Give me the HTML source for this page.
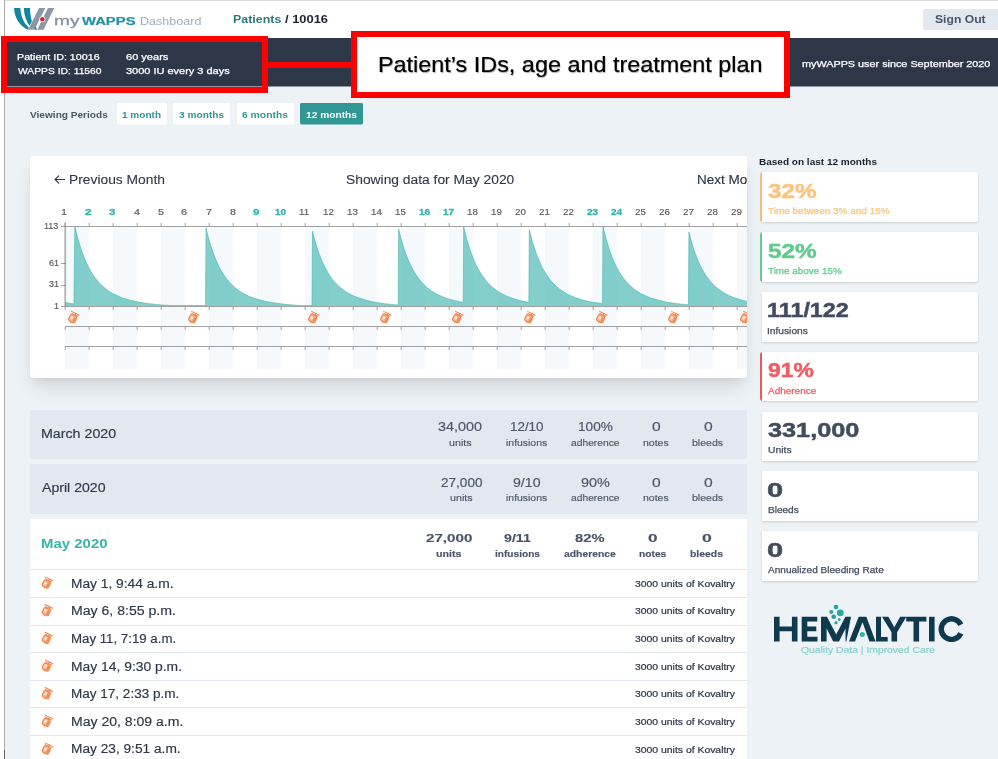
<!DOCTYPE html>
<html lang="en">
<head>
<meta charset="utf-8">
<title>myWAPPS Dashboard - Patient 10016</title>
<style>
html,body{margin:0;padding:0}
body{width:998px;height:759px;overflow:hidden;background:#edf2f7;font-family:"Liberation Sans",sans-serif;position:relative}
#page{position:absolute;left:0;top:0;width:998px;height:759px;overflow:hidden;background:#edf2f7;will-change:transform}
.b{position:absolute;display:block}
.t{position:absolute;display:block;white-space:nowrap;line-height:1;font-family:"Liberation Sans",sans-serif}
.t{line-height:1em;transform-origin:0 50%}
</style>
</head>
<body>
<div id="page">
<div class="b" style="left:0;top:0;width:4px;height:759px;background:#fff"></div>
<div class="b" style="left:4px;top:0;width:1px;height:759px;background:#aaa"></div>
<div class="b" style="left:4px;top:750px;width:1px;height:9px;background:#666"></div>
<div class="b hdr" style="left:5px;top:0;width:993px;height:38px;background:#fff;border-top:1px solid #dcdcdc;box-sizing:border-box"></div>
<svg class="b" style="left:12px;top:5px" width="46" height="28" viewBox="12 5 46 28">
<path d="M14 8 L20.3 8 C20.9 16 23.6 23.2 28.7 27.3 L27.9 29.7 C20 26.5 14.6 18 14 8 Z" fill="#12869f"/>
<path d="M23.8 8 L30 8 C30.1 13 30.8 17.4 31.9 21.2 L29.6 25.8 C26.2 21.2 24 15 23.8 8 Z" fill="#12869f"/>
<path d="M39 8 L45.3 8 L34.5 29.7 L28.1 29.7 Z" fill="#8c98a4"/>
<path d="M48 8 L54.3 8 L43.5 29.7 L37.2 29.7 Z" fill="#8c98a4"/>
<path d="M34.3 26.9 L35.7 26.2 C36 27.6 36.7 28.8 37.5 29.7 L35.3 29.7 C34.8 28.9 34.5 27.9 34.3 26.9 Z" fill="#1a8ca4"/>
<circle cx="42.3" cy="19.2" r="3" fill="#fff"/>
<circle cx="42.3" cy="19.2" r="2.2" fill="#e3172b"/>
</svg>
<span class="t" style="left:54.46px;top:14.67px;font-size:12.2px;color:#8792a0;transform:scaleX(1.5683);-webkit-text-stroke-width:0.3px;">my</span>
<span class="t" style="left:82.00px;top:15.86px;font-size:10.8px;color:#2590a8;font-weight:700;transform:scaleX(1.3727);-webkit-text-stroke-width:0.2px;">WAPPS</span>
<span class="t" style="left:139.50px;top:15.76px;font-size:10.8px;color:#a0aec0;transform:scaleX(1.1618);">Dashboard</span>
<span class="t" style="left:232.89px;top:14.78px;font-size:10.3px;color:#2c7a7b;font-weight:700;transform:scaleX(1.2091);">Patients</span>
<span class="t" style="left:284.64px;top:14.78px;font-size:10.3px;color:#1a202c;font-weight:700;transform:scaleX(1.2523);">/ 10016</span>
<div class="b" style="left:923px;top:9px;width:75.00px;height:21.00px;background:#e2e8f0;border-radius:2px 0 0 2px;"></div>
<span class="t" style="left:934.70px;top:13.76px;font-size:10.8px;color:#4a5568;font-weight:700;transform:scaleX(1.1263);">Sign Out</span>
<div class="b" style="left:5px;top:38px;width:993.00px;height:48.00px;background:#2d3748;"></div>
<div class="b" style="left:5px;top:86px;width:993.00px;height:1.00px;background:#8a93a0;"></div>
<span class="t" style="left:16.54px;top:52.67px;font-size:8.9px;color:#fff;transform:scaleX(1.2041);-webkit-text-stroke-width:0.25px;">Patient ID: 10016</span>
<span class="t" style="left:17.60px;top:66.67px;font-size:8.9px;color:#fff;transform:scaleX(1.1598);-webkit-text-stroke-width:0.25px;">WAPPS ID: 11560</span>
<span class="t" style="left:125.65px;top:52.67px;font-size:8.9px;color:#fff;transform:scaleX(1.2434);-webkit-text-stroke-width:0.25px;">60 years</span>
<span class="t" style="left:125.81px;top:66.67px;font-size:8.9px;color:#fff;transform:scaleX(1.2362);-webkit-text-stroke-width:0.25px;">3000 IU every 3 days</span>
<span class="t" style="left:802.30px;top:59.57px;font-size:8.9px;color:#fff;transform:scaleX(1.2187);-webkit-text-stroke-width:0.25px;">myWAPPS user since September 2020</span>
<span class="t" style="left:29.95px;top:110.64px;font-size:8.7px;color:#4a5568;font-weight:700;transform:scaleX(1.1622);">Viewing Periods</span>
<div class="b" style="left:116.8px;top:103px;width:50.30px;height:22.00px;background:#f6f9fb;border-radius:2px;"></div>
<div class="b" style="left:116.8px;top:103px;width:50.30px;height:21.00px;background:#fff;border-radius:1.5px;"></div>
<span class="t" style="left:122.40px;top:110.64px;font-size:8.7px;color:#319795;font-weight:700;transform:scaleX(1.1555);">1 month</span>
<div class="b" style="left:173.3px;top:103px;width:57.00px;height:22.00px;background:#f6f9fb;border-radius:2px;"></div>
<div class="b" style="left:173.3px;top:103px;width:57.00px;height:21.00px;background:#fff;border-radius:1.5px;"></div>
<span class="t" style="left:179.30px;top:110.64px;font-size:8.7px;color:#319795;font-weight:700;transform:scaleX(1.1678);">3 months</span>
<div class="b" style="left:236.5px;top:103px;width:57.70px;height:22.00px;background:#f6f9fb;border-radius:2px;"></div>
<div class="b" style="left:236.5px;top:103px;width:57.70px;height:21.00px;background:#fff;border-radius:1.5px;"></div>
<span class="t" style="left:242.34px;top:110.64px;font-size:8.7px;color:#319795;font-weight:700;transform:scaleX(1.1901);">6 months</span>
<div class="b" style="left:300.3px;top:103px;width:62.40px;height:22.00px;background:#8fc5c6;border-radius:2px;"></div>
<div class="b" style="left:300.3px;top:103px;width:62.40px;height:21.00px;background:#319795;border-radius:1.5px;"></div>
<span class="t" style="left:305.89px;top:110.64px;font-size:8.7px;color:#fff;font-weight:700;transform:scaleX(1.1717);">12 months</span>
<div class="b card" style="left:30px;top:156px;width:717px;height:222px;background:#fff;border-radius:3px;box-shadow:0 12px 18px -3px rgba(0,0,0,.11),0 4px 6px -2px rgba(0,0,0,.06);overflow:hidden">
<svg class="b" style="left:20px;top:14px" width="20" height="20" viewBox="50 170 20 20"><path d="M64.6 179.5H55.2M58.8 175.8L55.1 179.5L58.8 183.2" fill="none" stroke="#2d3748" stroke-width="1.15" stroke-linecap="round" stroke-linejoin="round"/></svg>
<span class="t" style="left:39.09px;top:17.79px;font-size:12.3px;color:#2d3748;transform:scaleX(1.1230);-webkit-text-stroke-width:0.1px;">Previous Month</span>
<span class="t" style="left:316.38px;top:17.79px;font-size:12.3px;color:#2d3748;transform:scaleX(1.1239);-webkit-text-stroke-width:0.1px;">Showing data for May 2020</span>
<span class="t" style="left:666.62px;top:17.79px;font-size:12.3px;color:#2d3748;transform:scaleX(1.1000);-webkit-text-stroke-width:0.15px;">Next Month →</span>
<svg class="b" style="left:0;top:0" width="717" height="222" viewBox="30 156 717 222">
<rect x="65.2" y="226.5" width="24.0" height="143.0" fill="#f5f9fc"/>
<rect x="113.2" y="226.5" width="24.0" height="143.0" fill="#f5f9fc"/>
<rect x="161.2" y="226.5" width="24.0" height="143.0" fill="#f5f9fc"/>
<rect x="209.2" y="226.5" width="24.0" height="143.0" fill="#f5f9fc"/>
<rect x="257.1" y="226.5" width="24.0" height="143.0" fill="#f5f9fc"/>
<rect x="305.1" y="226.5" width="24.0" height="143.0" fill="#f5f9fc"/>
<rect x="353.1" y="226.5" width="24.0" height="143.0" fill="#f5f9fc"/>
<rect x="401.1" y="226.5" width="24.0" height="143.0" fill="#f5f9fc"/>
<rect x="449.1" y="226.5" width="24.0" height="143.0" fill="#f5f9fc"/>
<rect x="497.1" y="226.5" width="24.0" height="143.0" fill="#f5f9fc"/>
<rect x="545.1" y="226.5" width="24.0" height="143.0" fill="#f5f9fc"/>
<rect x="593.1" y="226.5" width="24.0" height="143.0" fill="#f5f9fc"/>
<rect x="641.1" y="226.5" width="24.0" height="143.0" fill="#f5f9fc"/>
<rect x="689.1" y="226.5" width="24.0" height="143.0" fill="#f5f9fc"/>
<rect x="737.1" y="226.5" width="24.0" height="143.0" fill="#f5f9fc"/>
<polygon points="65.15,306.5 65.15,302.50 73.91,304.07 74.87,226.50 76.32,232.57 77.77,238.12 79.23,243.20 80.68,247.85 82.13,252.12 83.58,256.03 85.03,259.62 86.49,262.93 87.94,265.96 89.39,268.76 90.84,271.34 92.29,273.71 93.75,275.91 95.20,277.93 96.65,279.81 98.10,281.54 99.55,283.15 101.01,284.64 102.46,286.03 103.91,287.31 105.36,288.51 106.81,289.62 108.27,290.66 109.72,291.63 111.17,292.53 112.62,293.37 114.07,294.16 115.53,294.89 116.98,295.58 118.43,296.23 119.88,296.83 121.33,297.40 122.79,297.93 124.24,298.43 125.69,298.90 127.14,299.35 128.59,299.76 130.05,300.16 131.50,300.53 132.95,300.87 134.40,301.20 135.85,301.51 137.31,301.81 138.76,302.08 140.21,302.34 141.66,302.59 143.11,302.82 144.57,303.04 146.02,303.25 147.47,303.45 148.92,303.64 150.37,303.82 151.83,303.98 153.28,304.14 154.73,304.30 156.18,304.44 157.63,304.58 159.09,304.70 160.54,304.83 161.99,304.94 163.44,305.05 164.89,305.16 166.35,305.26 167.80,305.35 169.25,305.44 170.70,305.53 172.15,305.57 173.61,305.57 175.06,305.57 176.51,305.57 177.96,305.57 179.41,305.57 180.87,305.57 182.32,305.57 183.77,305.57 185.22,305.57 186.67,305.57 188.13,305.57 189.58,305.57 191.03,305.57 192.48,305.57 193.93,305.57 195.39,305.57 196.84,305.57 198.29,305.57 199.74,305.57 201.19,305.57 202.65,305.57 204.10,305.57 205.55,305.57 206.03,227.93 207.21,232.80 208.38,237.34 209.56,241.56 210.74,245.48 211.92,249.14 213.09,252.55 214.27,255.73 215.45,258.69 216.63,261.46 217.80,264.05 218.98,266.46 220.16,268.72 221.34,270.83 222.51,272.81 223.69,274.67 224.87,276.41 226.04,278.04 227.22,279.56 228.40,281.00 229.58,282.35 230.75,283.62 231.93,284.81 233.11,285.94 234.29,287.00 235.46,287.99 236.64,288.93 237.82,289.82 239.00,290.66 240.17,291.45 241.35,292.20 242.53,292.90 243.70,293.57 244.88,294.21 246.06,294.81 247.24,295.37 248.41,295.91 249.59,296.42 250.77,296.91 251.95,297.37 253.12,297.81 254.30,298.22 255.48,298.62 256.66,298.99 257.83,299.35 259.01,299.69 260.19,300.01 261.36,300.32 262.54,300.62 263.72,300.90 264.90,301.16 266.07,301.42 267.25,301.66 268.43,301.89 269.61,302.12 270.78,302.33 271.96,302.53 273.14,302.72 274.32,302.91 275.49,303.08 276.67,303.25 277.85,303.41 279.02,303.57 280.20,303.72 281.38,303.86 282.56,303.99 283.73,304.12 284.91,304.25 286.09,304.37 287.27,304.48 288.44,304.59 289.62,304.70 290.80,304.80 291.98,304.89 293.15,304.98 294.33,305.07 295.51,305.16 296.68,305.24 297.86,305.32 299.04,305.39 300.22,305.46 301.39,305.53 302.57,305.57 303.75,305.57 304.93,305.57 306.10,305.57 307.28,305.57 308.46,305.57 309.64,305.57 310.81,305.57 311.99,305.57 312.47,231.21 313.42,235.02 314.37,238.61 315.33,241.99 316.28,245.19 317.23,248.20 318.18,251.05 319.14,253.74 320.09,256.28 321.04,258.68 321.99,260.95 322.94,263.09 323.90,265.12 324.85,267.05 325.80,268.87 326.75,270.59 327.71,272.23 328.66,273.78 329.61,275.25 330.56,276.64 331.52,277.97 332.47,279.22 333.42,280.42 334.37,281.55 335.32,282.63 336.28,283.66 337.23,284.63 338.18,285.56 339.13,286.45 340.09,287.29 341.04,288.09 341.99,288.86 342.94,289.59 343.89,290.28 344.85,290.95 345.80,291.58 346.75,292.19 347.70,292.77 348.66,293.32 349.61,293.85 350.56,294.36 351.51,294.84 352.47,295.30 353.42,295.75 354.37,296.17 355.32,296.58 356.27,296.97 357.23,297.34 358.18,297.70 359.13,298.04 360.08,298.37 361.04,298.69 361.99,298.99 362.94,299.29 363.89,299.57 364.84,299.84 365.80,300.09 366.75,300.34 367.70,300.58 368.65,300.81 369.61,301.03 370.56,301.25 371.51,301.45 372.46,301.65 373.42,301.84 374.37,302.02 375.32,302.20 376.27,302.37 377.22,302.53 378.18,302.69 379.13,302.84 380.08,302.99 381.03,303.13 381.99,303.26 382.94,303.39 383.89,303.52 384.84,303.64 385.79,303.76 386.75,303.87 387.70,303.98 388.65,304.09 389.60,304.19 390.56,304.29 391.51,304.39 392.46,304.48 393.41,304.57 394.36,304.65 395.32,304.74 396.27,304.82 397.22,304.89 398.17,304.97 398.65,229.00 399.37,231.97 400.09,234.82 400.81,237.54 401.52,240.14 402.24,242.63 402.96,245.02 403.68,247.30 404.39,249.49 405.11,251.58 405.83,253.59 406.54,255.51 407.26,257.36 407.98,259.12 408.70,260.82 409.41,262.44 410.13,264.00 410.85,265.50 411.57,266.94 412.28,268.31 413.00,269.64 413.72,270.91 414.44,272.13 415.15,273.30 415.87,274.43 416.59,275.52 417.30,276.56 418.02,277.56 418.74,278.52 419.46,279.45 420.17,280.34 420.89,281.20 421.61,282.03 422.33,282.82 423.04,283.59 423.76,284.33 424.48,285.04 425.20,285.73 425.91,286.39 426.63,287.03 427.35,287.64 428.06,288.23 428.78,288.81 429.50,289.36 430.22,289.89 430.93,290.41 431.65,290.90 432.37,291.38 433.09,291.85 433.80,292.30 434.52,292.73 435.24,293.15 435.96,293.55 436.67,293.94 437.39,294.32 438.11,294.69 438.82,295.04 439.54,295.38 440.26,295.72 440.98,296.04 441.69,296.35 442.41,296.65 443.13,296.94 443.85,297.22 444.56,297.50 445.28,297.76 446.00,298.02 446.72,298.27 447.43,298.51 448.15,298.75 448.87,298.98 449.58,299.20 450.30,299.41 451.02,299.62 451.74,299.82 452.45,300.02 453.17,300.21 453.89,300.39 454.61,300.57 455.32,300.74 456.04,300.91 456.76,301.08 457.48,301.24 458.19,301.39 458.91,301.54 459.63,301.69 460.34,301.83 461.06,301.97 461.78,302.10 462.50,302.23 463.21,302.36 463.69,226.79 464.42,229.87 465.14,232.82 465.87,235.64 466.59,238.33 467.31,240.91 468.04,243.38 468.76,245.75 469.48,248.01 470.21,250.18 470.93,252.25 471.66,254.24 472.38,256.14 473.10,257.97 473.83,259.72 474.55,261.40 475.27,263.00 476.00,264.55 476.72,266.03 477.44,267.45 478.17,268.81 478.89,270.12 479.62,271.38 480.34,272.59 481.06,273.75 481.79,274.86 482.51,275.93 483.23,276.96 483.96,277.95 484.68,278.90 485.41,279.82 486.13,280.70 486.85,281.55 487.58,282.37 488.30,283.16 489.02,283.91 489.75,284.64 490.47,285.35 491.20,286.02 491.92,286.68 492.64,287.31 493.37,287.91 494.09,288.50 494.81,289.07 495.54,289.61 496.26,290.14 496.99,290.65 497.71,291.14 498.43,291.61 499.16,292.07 499.88,292.51 500.60,292.94 501.33,293.35 502.05,293.75 502.78,294.14 503.50,294.51 504.22,294.87 504.95,295.22 505.67,295.56 506.39,295.89 507.12,296.21 507.84,296.52 508.57,296.81 509.29,297.10 510.01,297.38 510.74,297.65 511.46,297.91 512.18,298.17 512.91,298.41 513.63,298.65 514.36,298.88 515.08,299.11 515.80,299.33 516.53,299.54 517.25,299.74 517.97,299.94 518.70,300.14 519.42,300.32 520.15,300.51 520.87,300.68 521.59,300.85 522.32,301.02 523.04,301.18 523.76,301.34 524.49,301.49 525.21,301.64 525.94,301.79 526.66,301.93 527.38,302.06 528.11,302.20 528.83,302.32 529.31,229.57 530.12,232.91 530.94,236.08 531.75,239.10 532.56,241.97 533.38,244.70 534.19,247.30 535.00,249.77 535.82,252.13 536.63,254.38 537.44,256.52 538.26,258.56 539.07,260.50 539.88,262.36 540.70,264.13 541.51,265.82 542.32,267.43 543.14,268.97 543.95,270.44 544.76,271.84 545.58,273.18 546.39,274.46 547.20,275.69 548.02,276.86 548.83,277.98 549.64,279.05 550.46,280.08 551.27,281.07 552.08,282.01 552.90,282.91 553.71,283.77 554.52,284.60 555.34,285.40 556.15,286.16 556.96,286.89 557.78,287.59 558.59,288.27 559.40,288.91 560.22,289.54 561.03,290.13 561.84,290.71 562.66,291.26 563.47,291.79 564.28,292.30 565.10,292.79 565.91,293.26 566.72,293.71 567.54,294.15 568.35,294.57 569.16,294.98 569.98,295.37 570.79,295.74 571.60,296.11 572.42,296.46 573.23,296.79 574.04,297.12 574.86,297.43 575.67,297.74 576.48,298.03 577.30,298.31 578.11,298.58 578.92,298.85 579.74,299.10 580.55,299.35 581.36,299.58 582.18,299.81 582.99,300.04 583.80,300.25 584.62,300.46 585.43,300.66 586.24,300.85 587.06,301.04 587.87,301.22 588.68,301.40 589.50,301.57 590.31,301.73 591.12,301.89 591.94,302.05 592.75,302.20 593.56,302.34 594.38,302.48 595.19,302.62 596.00,302.75 596.82,302.88 597.63,303.00 598.44,303.12 599.26,303.24 600.07,303.35 600.88,303.46 601.70,303.57 602.51,303.67 602.99,226.50 603.94,230.53 604.89,234.33 605.84,237.92 606.79,241.30 607.74,244.49 608.69,247.51 609.64,250.36 610.58,253.05 611.53,255.60 612.48,258.00 613.43,260.28 614.38,262.43 615.33,264.47 616.28,266.41 617.23,268.24 618.18,269.97 619.13,271.62 620.08,273.18 621.03,274.66 621.98,276.07 622.93,277.40 623.88,278.67 624.82,279.88 625.77,281.02 626.72,282.11 627.67,283.15 628.62,284.14 629.57,285.08 630.52,285.97 631.47,286.83 632.42,287.64 633.37,288.42 634.32,289.16 635.27,289.87 636.22,290.54 637.17,291.19 638.12,291.80 639.06,292.39 640.01,292.96 640.96,293.49 641.91,294.01 642.86,294.50 643.81,294.97 644.76,295.43 645.71,295.86 646.66,296.28 647.61,296.67 648.56,297.05 649.51,297.42 650.46,297.77 651.41,298.11 652.36,298.43 653.30,298.74 654.25,299.04 655.20,299.33 656.15,299.61 657.10,299.87 658.05,300.13 659.00,300.37 659.95,300.61 660.90,300.83 661.85,301.05 662.80,301.26 663.75,301.47 664.70,301.66 665.65,301.85 666.60,302.03 667.54,302.20 668.49,302.37 669.44,302.53 670.39,302.69 671.34,302.84 672.29,302.99 673.24,303.13 674.19,303.26 675.14,303.39 676.09,303.52 677.04,303.64 677.99,303.76 678.94,303.87 679.89,303.98 680.84,304.08 681.78,304.19 682.73,304.28 683.68,304.38 684.63,304.47 685.58,304.56 686.53,304.65 687.48,304.73 688.43,304.81 688.91,232.21 689.77,235.60 690.62,238.81 691.48,241.86 692.33,244.75 693.19,247.50 694.05,250.10 694.90,252.58 695.76,254.93 696.61,257.16 697.47,259.29 698.33,261.31 699.18,263.23 700.04,265.06 700.89,266.80 701.75,268.46 702.61,270.03 703.46,271.54 704.32,272.97 705.17,274.33 706.03,275.64 706.89,276.88 707.74,278.06 708.60,279.19 709.45,280.27 710.31,281.31 711.17,282.29 712.02,283.23 712.88,284.13 713.73,284.99 714.59,285.82 715.45,286.61 716.30,287.36 717.16,288.08 718.01,288.77 718.87,289.44 719.73,290.07 720.58,290.68 721.44,291.26 722.29,291.82 723.15,292.36 724.01,292.88 724.86,293.37 725.72,293.85 726.57,294.30 727.43,294.74 728.29,295.17 729.14,295.57 730.00,295.96 730.85,296.34 731.71,296.70 732.57,297.04 733.42,297.38 734.28,297.70 735.13,298.01 735.99,298.31 736.85,298.60 737.70,298.87 738.56,299.14 739.41,299.40 740.27,299.65 741.13,299.89 741.98,300.12 742.84,300.34 743.69,300.56 744.55,300.77 745.41,300.97 746.26,301.16 747.12,301.35 747.97,301.53 748.83,301.71 749.69,301.88 750.54,302.04 751.40,302.20 752.25,302.35 753.11,302.50 753.97,302.64 754.82,302.78 755.68,302.91 756.53,303.04 757.39,303.17 758.25,303.29 759.10,303.41 759.96,303.52 760.81,303.63 761.67,303.74 762.53,303.84 763.38,303.94 764.24,304.04 765.09,304.13 765.95,304.22 765.95,306.5" fill="#38b2ac" fill-opacity="0.62"/>
<polyline points="65.15,302.50 73.91,304.07 74.87,226.50 76.32,232.57 77.77,238.12 79.23,243.20 80.68,247.85 82.13,252.12 83.58,256.03 85.03,259.62 86.49,262.93 87.94,265.96 89.39,268.76 90.84,271.34 92.29,273.71 93.75,275.91 95.20,277.93 96.65,279.81 98.10,281.54 99.55,283.15 101.01,284.64 102.46,286.03 103.91,287.31 105.36,288.51 106.81,289.62 108.27,290.66 109.72,291.63 111.17,292.53 112.62,293.37 114.07,294.16 115.53,294.89 116.98,295.58 118.43,296.23 119.88,296.83 121.33,297.40 122.79,297.93 124.24,298.43 125.69,298.90 127.14,299.35 128.59,299.76 130.05,300.16 131.50,300.53 132.95,300.87 134.40,301.20 135.85,301.51 137.31,301.81 138.76,302.08 140.21,302.34 141.66,302.59 143.11,302.82 144.57,303.04 146.02,303.25 147.47,303.45 148.92,303.64 150.37,303.82 151.83,303.98 153.28,304.14 154.73,304.30 156.18,304.44 157.63,304.58 159.09,304.70 160.54,304.83 161.99,304.94 163.44,305.05 164.89,305.16 166.35,305.26 167.80,305.35 169.25,305.44 170.70,305.53 172.15,305.57 173.61,305.57 175.06,305.57 176.51,305.57 177.96,305.57 179.41,305.57 180.87,305.57 182.32,305.57 183.77,305.57 185.22,305.57 186.67,305.57 188.13,305.57 189.58,305.57 191.03,305.57 192.48,305.57 193.93,305.57 195.39,305.57 196.84,305.57 198.29,305.57 199.74,305.57 201.19,305.57 202.65,305.57 204.10,305.57 205.55,305.57 206.03,227.93 207.21,232.80 208.38,237.34 209.56,241.56 210.74,245.48 211.92,249.14 213.09,252.55 214.27,255.73 215.45,258.69 216.63,261.46 217.80,264.05 218.98,266.46 220.16,268.72 221.34,270.83 222.51,272.81 223.69,274.67 224.87,276.41 226.04,278.04 227.22,279.56 228.40,281.00 229.58,282.35 230.75,283.62 231.93,284.81 233.11,285.94 234.29,287.00 235.46,287.99 236.64,288.93 237.82,289.82 239.00,290.66 240.17,291.45 241.35,292.20 242.53,292.90 243.70,293.57 244.88,294.21 246.06,294.81 247.24,295.37 248.41,295.91 249.59,296.42 250.77,296.91 251.95,297.37 253.12,297.81 254.30,298.22 255.48,298.62 256.66,298.99 257.83,299.35 259.01,299.69 260.19,300.01 261.36,300.32 262.54,300.62 263.72,300.90 264.90,301.16 266.07,301.42 267.25,301.66 268.43,301.89 269.61,302.12 270.78,302.33 271.96,302.53 273.14,302.72 274.32,302.91 275.49,303.08 276.67,303.25 277.85,303.41 279.02,303.57 280.20,303.72 281.38,303.86 282.56,303.99 283.73,304.12 284.91,304.25 286.09,304.37 287.27,304.48 288.44,304.59 289.62,304.70 290.80,304.80 291.98,304.89 293.15,304.98 294.33,305.07 295.51,305.16 296.68,305.24 297.86,305.32 299.04,305.39 300.22,305.46 301.39,305.53 302.57,305.57 303.75,305.57 304.93,305.57 306.10,305.57 307.28,305.57 308.46,305.57 309.64,305.57 310.81,305.57 311.99,305.57 312.47,231.21 313.42,235.02 314.37,238.61 315.33,241.99 316.28,245.19 317.23,248.20 318.18,251.05 319.14,253.74 320.09,256.28 321.04,258.68 321.99,260.95 322.94,263.09 323.90,265.12 324.85,267.05 325.80,268.87 326.75,270.59 327.71,272.23 328.66,273.78 329.61,275.25 330.56,276.64 331.52,277.97 332.47,279.22 333.42,280.42 334.37,281.55 335.32,282.63 336.28,283.66 337.23,284.63 338.18,285.56 339.13,286.45 340.09,287.29 341.04,288.09 341.99,288.86 342.94,289.59 343.89,290.28 344.85,290.95 345.80,291.58 346.75,292.19 347.70,292.77 348.66,293.32 349.61,293.85 350.56,294.36 351.51,294.84 352.47,295.30 353.42,295.75 354.37,296.17 355.32,296.58 356.27,296.97 357.23,297.34 358.18,297.70 359.13,298.04 360.08,298.37 361.04,298.69 361.99,298.99 362.94,299.29 363.89,299.57 364.84,299.84 365.80,300.09 366.75,300.34 367.70,300.58 368.65,300.81 369.61,301.03 370.56,301.25 371.51,301.45 372.46,301.65 373.42,301.84 374.37,302.02 375.32,302.20 376.27,302.37 377.22,302.53 378.18,302.69 379.13,302.84 380.08,302.99 381.03,303.13 381.99,303.26 382.94,303.39 383.89,303.52 384.84,303.64 385.79,303.76 386.75,303.87 387.70,303.98 388.65,304.09 389.60,304.19 390.56,304.29 391.51,304.39 392.46,304.48 393.41,304.57 394.36,304.65 395.32,304.74 396.27,304.82 397.22,304.89 398.17,304.97 398.65,229.00 399.37,231.97 400.09,234.82 400.81,237.54 401.52,240.14 402.24,242.63 402.96,245.02 403.68,247.30 404.39,249.49 405.11,251.58 405.83,253.59 406.54,255.51 407.26,257.36 407.98,259.12 408.70,260.82 409.41,262.44 410.13,264.00 410.85,265.50 411.57,266.94 412.28,268.31 413.00,269.64 413.72,270.91 414.44,272.13 415.15,273.30 415.87,274.43 416.59,275.52 417.30,276.56 418.02,277.56 418.74,278.52 419.46,279.45 420.17,280.34 420.89,281.20 421.61,282.03 422.33,282.82 423.04,283.59 423.76,284.33 424.48,285.04 425.20,285.73 425.91,286.39 426.63,287.03 427.35,287.64 428.06,288.23 428.78,288.81 429.50,289.36 430.22,289.89 430.93,290.41 431.65,290.90 432.37,291.38 433.09,291.85 433.80,292.30 434.52,292.73 435.24,293.15 435.96,293.55 436.67,293.94 437.39,294.32 438.11,294.69 438.82,295.04 439.54,295.38 440.26,295.72 440.98,296.04 441.69,296.35 442.41,296.65 443.13,296.94 443.85,297.22 444.56,297.50 445.28,297.76 446.00,298.02 446.72,298.27 447.43,298.51 448.15,298.75 448.87,298.98 449.58,299.20 450.30,299.41 451.02,299.62 451.74,299.82 452.45,300.02 453.17,300.21 453.89,300.39 454.61,300.57 455.32,300.74 456.04,300.91 456.76,301.08 457.48,301.24 458.19,301.39 458.91,301.54 459.63,301.69 460.34,301.83 461.06,301.97 461.78,302.10 462.50,302.23 463.21,302.36 463.69,226.79 464.42,229.87 465.14,232.82 465.87,235.64 466.59,238.33 467.31,240.91 468.04,243.38 468.76,245.75 469.48,248.01 470.21,250.18 470.93,252.25 471.66,254.24 472.38,256.14 473.10,257.97 473.83,259.72 474.55,261.40 475.27,263.00 476.00,264.55 476.72,266.03 477.44,267.45 478.17,268.81 478.89,270.12 479.62,271.38 480.34,272.59 481.06,273.75 481.79,274.86 482.51,275.93 483.23,276.96 483.96,277.95 484.68,278.90 485.41,279.82 486.13,280.70 486.85,281.55 487.58,282.37 488.30,283.16 489.02,283.91 489.75,284.64 490.47,285.35 491.20,286.02 491.92,286.68 492.64,287.31 493.37,287.91 494.09,288.50 494.81,289.07 495.54,289.61 496.26,290.14 496.99,290.65 497.71,291.14 498.43,291.61 499.16,292.07 499.88,292.51 500.60,292.94 501.33,293.35 502.05,293.75 502.78,294.14 503.50,294.51 504.22,294.87 504.95,295.22 505.67,295.56 506.39,295.89 507.12,296.21 507.84,296.52 508.57,296.81 509.29,297.10 510.01,297.38 510.74,297.65 511.46,297.91 512.18,298.17 512.91,298.41 513.63,298.65 514.36,298.88 515.08,299.11 515.80,299.33 516.53,299.54 517.25,299.74 517.97,299.94 518.70,300.14 519.42,300.32 520.15,300.51 520.87,300.68 521.59,300.85 522.32,301.02 523.04,301.18 523.76,301.34 524.49,301.49 525.21,301.64 525.94,301.79 526.66,301.93 527.38,302.06 528.11,302.20 528.83,302.32 529.31,229.57 530.12,232.91 530.94,236.08 531.75,239.10 532.56,241.97 533.38,244.70 534.19,247.30 535.00,249.77 535.82,252.13 536.63,254.38 537.44,256.52 538.26,258.56 539.07,260.50 539.88,262.36 540.70,264.13 541.51,265.82 542.32,267.43 543.14,268.97 543.95,270.44 544.76,271.84 545.58,273.18 546.39,274.46 547.20,275.69 548.02,276.86 548.83,277.98 549.64,279.05 550.46,280.08 551.27,281.07 552.08,282.01 552.90,282.91 553.71,283.77 554.52,284.60 555.34,285.40 556.15,286.16 556.96,286.89 557.78,287.59 558.59,288.27 559.40,288.91 560.22,289.54 561.03,290.13 561.84,290.71 562.66,291.26 563.47,291.79 564.28,292.30 565.10,292.79 565.91,293.26 566.72,293.71 567.54,294.15 568.35,294.57 569.16,294.98 569.98,295.37 570.79,295.74 571.60,296.11 572.42,296.46 573.23,296.79 574.04,297.12 574.86,297.43 575.67,297.74 576.48,298.03 577.30,298.31 578.11,298.58 578.92,298.85 579.74,299.10 580.55,299.35 581.36,299.58 582.18,299.81 582.99,300.04 583.80,300.25 584.62,300.46 585.43,300.66 586.24,300.85 587.06,301.04 587.87,301.22 588.68,301.40 589.50,301.57 590.31,301.73 591.12,301.89 591.94,302.05 592.75,302.20 593.56,302.34 594.38,302.48 595.19,302.62 596.00,302.75 596.82,302.88 597.63,303.00 598.44,303.12 599.26,303.24 600.07,303.35 600.88,303.46 601.70,303.57 602.51,303.67 602.99,226.50 603.94,230.53 604.89,234.33 605.84,237.92 606.79,241.30 607.74,244.49 608.69,247.51 609.64,250.36 610.58,253.05 611.53,255.60 612.48,258.00 613.43,260.28 614.38,262.43 615.33,264.47 616.28,266.41 617.23,268.24 618.18,269.97 619.13,271.62 620.08,273.18 621.03,274.66 621.98,276.07 622.93,277.40 623.88,278.67 624.82,279.88 625.77,281.02 626.72,282.11 627.67,283.15 628.62,284.14 629.57,285.08 630.52,285.97 631.47,286.83 632.42,287.64 633.37,288.42 634.32,289.16 635.27,289.87 636.22,290.54 637.17,291.19 638.12,291.80 639.06,292.39 640.01,292.96 640.96,293.49 641.91,294.01 642.86,294.50 643.81,294.97 644.76,295.43 645.71,295.86 646.66,296.28 647.61,296.67 648.56,297.05 649.51,297.42 650.46,297.77 651.41,298.11 652.36,298.43 653.30,298.74 654.25,299.04 655.20,299.33 656.15,299.61 657.10,299.87 658.05,300.13 659.00,300.37 659.95,300.61 660.90,300.83 661.85,301.05 662.80,301.26 663.75,301.47 664.70,301.66 665.65,301.85 666.60,302.03 667.54,302.20 668.49,302.37 669.44,302.53 670.39,302.69 671.34,302.84 672.29,302.99 673.24,303.13 674.19,303.26 675.14,303.39 676.09,303.52 677.04,303.64 677.99,303.76 678.94,303.87 679.89,303.98 680.84,304.08 681.78,304.19 682.73,304.28 683.68,304.38 684.63,304.47 685.58,304.56 686.53,304.65 687.48,304.73 688.43,304.81 688.91,232.21 689.77,235.60 690.62,238.81 691.48,241.86 692.33,244.75 693.19,247.50 694.05,250.10 694.90,252.58 695.76,254.93 696.61,257.16 697.47,259.29 698.33,261.31 699.18,263.23 700.04,265.06 700.89,266.80 701.75,268.46 702.61,270.03 703.46,271.54 704.32,272.97 705.17,274.33 706.03,275.64 706.89,276.88 707.74,278.06 708.60,279.19 709.45,280.27 710.31,281.31 711.17,282.29 712.02,283.23 712.88,284.13 713.73,284.99 714.59,285.82 715.45,286.61 716.30,287.36 717.16,288.08 718.01,288.77 718.87,289.44 719.73,290.07 720.58,290.68 721.44,291.26 722.29,291.82 723.15,292.36 724.01,292.88 724.86,293.37 725.72,293.85 726.57,294.30 727.43,294.74 728.29,295.17 729.14,295.57 730.00,295.96 730.85,296.34 731.71,296.70 732.57,297.04 733.42,297.38 734.28,297.70 735.13,298.01 735.99,298.31 736.85,298.60 737.70,298.87 738.56,299.14 739.41,299.40 740.27,299.65 741.13,299.89 741.98,300.12 742.84,300.34 743.69,300.56 744.55,300.77 745.41,300.97 746.26,301.16 747.12,301.35 747.97,301.53 748.83,301.71 749.69,301.88 750.54,302.04 751.40,302.20 752.25,302.35 753.11,302.50 753.97,302.64 754.82,302.78 755.68,302.91 756.53,303.04 757.39,303.17 758.25,303.29 759.10,303.41 759.96,303.52 760.81,303.63 761.67,303.74 762.53,303.84 763.38,303.94 764.24,304.04 765.09,304.13 765.95,304.22" fill="none" stroke="#38b2ac" stroke-opacity="0.55" stroke-width="1"/>
<g stroke="#a0a0a0" stroke-width="1" fill="none" shape-rendering="crispEdges">
<line x1="61" y1="226.5" x2="760" y2="226.5"/>
<line x1="61" y1="306.5" x2="760" y2="306.5"/>
<line x1="65" y1="326.5" x2="760" y2="326.5"/>
<line x1="65" y1="346.5" x2="760" y2="346.5"/>
<line x1="61" y1="263.5" x2="65.5" y2="263.5"/>
<line x1="61" y1="285.5" x2="65.5" y2="285.5"/>
</g>
<g stroke="#a2a2a2" stroke-width="1" fill="none">
<line x1="65.15" y1="222.6" x2="65.15" y2="306.5" stroke="#7c7c7c"/>
<line x1="65.15" y1="222.8" x2="65.15" y2="226.5"/>
<line x1="65.15" y1="306.5" x2="65.15" y2="310.0"/>
<line x1="65.15" y1="326.5" x2="65.15" y2="330.0"/>
<line x1="65.15" y1="346.5" x2="65.15" y2="350.0"/>
<line x1="89.15" y1="222.8" x2="89.15" y2="226.5"/>
<line x1="89.15" y1="306.5" x2="89.15" y2="310.0"/>
<line x1="89.15" y1="326.5" x2="89.15" y2="330.0"/>
<line x1="89.15" y1="346.5" x2="89.15" y2="350.0"/>
<line x1="113.15" y1="222.8" x2="113.15" y2="226.5"/>
<line x1="113.15" y1="306.5" x2="113.15" y2="310.0"/>
<line x1="113.15" y1="326.5" x2="113.15" y2="330.0"/>
<line x1="113.15" y1="346.5" x2="113.15" y2="350.0"/>
<line x1="137.15" y1="222.8" x2="137.15" y2="226.5"/>
<line x1="137.15" y1="306.5" x2="137.15" y2="310.0"/>
<line x1="137.15" y1="326.5" x2="137.15" y2="330.0"/>
<line x1="137.15" y1="346.5" x2="137.15" y2="350.0"/>
<line x1="161.15" y1="222.8" x2="161.15" y2="226.5"/>
<line x1="161.15" y1="306.5" x2="161.15" y2="310.0"/>
<line x1="161.15" y1="326.5" x2="161.15" y2="330.0"/>
<line x1="161.15" y1="346.5" x2="161.15" y2="350.0"/>
<line x1="185.15" y1="222.8" x2="185.15" y2="226.5"/>
<line x1="185.15" y1="306.5" x2="185.15" y2="310.0"/>
<line x1="185.15" y1="326.5" x2="185.15" y2="330.0"/>
<line x1="185.15" y1="346.5" x2="185.15" y2="350.0"/>
<line x1="209.15" y1="222.8" x2="209.15" y2="226.5"/>
<line x1="209.15" y1="306.5" x2="209.15" y2="310.0"/>
<line x1="209.15" y1="326.5" x2="209.15" y2="330.0"/>
<line x1="209.15" y1="346.5" x2="209.15" y2="350.0"/>
<line x1="233.15" y1="222.8" x2="233.15" y2="226.5"/>
<line x1="233.15" y1="306.5" x2="233.15" y2="310.0"/>
<line x1="233.15" y1="326.5" x2="233.15" y2="330.0"/>
<line x1="233.15" y1="346.5" x2="233.15" y2="350.0"/>
<line x1="257.15" y1="222.8" x2="257.15" y2="226.5"/>
<line x1="257.15" y1="306.5" x2="257.15" y2="310.0"/>
<line x1="257.15" y1="326.5" x2="257.15" y2="330.0"/>
<line x1="257.15" y1="346.5" x2="257.15" y2="350.0"/>
<line x1="281.15" y1="222.8" x2="281.15" y2="226.5"/>
<line x1="281.15" y1="306.5" x2="281.15" y2="310.0"/>
<line x1="281.15" y1="326.5" x2="281.15" y2="330.0"/>
<line x1="281.15" y1="346.5" x2="281.15" y2="350.0"/>
<line x1="305.15" y1="222.8" x2="305.15" y2="226.5"/>
<line x1="305.15" y1="306.5" x2="305.15" y2="310.0"/>
<line x1="305.15" y1="326.5" x2="305.15" y2="330.0"/>
<line x1="305.15" y1="346.5" x2="305.15" y2="350.0"/>
<line x1="329.15" y1="222.8" x2="329.15" y2="226.5"/>
<line x1="329.15" y1="306.5" x2="329.15" y2="310.0"/>
<line x1="329.15" y1="326.5" x2="329.15" y2="330.0"/>
<line x1="329.15" y1="346.5" x2="329.15" y2="350.0"/>
<line x1="353.15" y1="222.8" x2="353.15" y2="226.5"/>
<line x1="353.15" y1="306.5" x2="353.15" y2="310.0"/>
<line x1="353.15" y1="326.5" x2="353.15" y2="330.0"/>
<line x1="353.15" y1="346.5" x2="353.15" y2="350.0"/>
<line x1="377.15" y1="222.8" x2="377.15" y2="226.5"/>
<line x1="377.15" y1="306.5" x2="377.15" y2="310.0"/>
<line x1="377.15" y1="326.5" x2="377.15" y2="330.0"/>
<line x1="377.15" y1="346.5" x2="377.15" y2="350.0"/>
<line x1="401.15" y1="222.8" x2="401.15" y2="226.5"/>
<line x1="401.15" y1="306.5" x2="401.15" y2="310.0"/>
<line x1="401.15" y1="326.5" x2="401.15" y2="330.0"/>
<line x1="401.15" y1="346.5" x2="401.15" y2="350.0"/>
<line x1="425.15" y1="222.8" x2="425.15" y2="226.5"/>
<line x1="425.15" y1="306.5" x2="425.15" y2="310.0"/>
<line x1="425.15" y1="326.5" x2="425.15" y2="330.0"/>
<line x1="425.15" y1="346.5" x2="425.15" y2="350.0"/>
<line x1="449.15" y1="222.8" x2="449.15" y2="226.5"/>
<line x1="449.15" y1="306.5" x2="449.15" y2="310.0"/>
<line x1="449.15" y1="326.5" x2="449.15" y2="330.0"/>
<line x1="449.15" y1="346.5" x2="449.15" y2="350.0"/>
<line x1="473.15" y1="222.8" x2="473.15" y2="226.5"/>
<line x1="473.15" y1="306.5" x2="473.15" y2="310.0"/>
<line x1="473.15" y1="326.5" x2="473.15" y2="330.0"/>
<line x1="473.15" y1="346.5" x2="473.15" y2="350.0"/>
<line x1="497.15" y1="222.8" x2="497.15" y2="226.5"/>
<line x1="497.15" y1="306.5" x2="497.15" y2="310.0"/>
<line x1="497.15" y1="326.5" x2="497.15" y2="330.0"/>
<line x1="497.15" y1="346.5" x2="497.15" y2="350.0"/>
<line x1="521.15" y1="222.8" x2="521.15" y2="226.5"/>
<line x1="521.15" y1="306.5" x2="521.15" y2="310.0"/>
<line x1="521.15" y1="326.5" x2="521.15" y2="330.0"/>
<line x1="521.15" y1="346.5" x2="521.15" y2="350.0"/>
<line x1="545.15" y1="222.8" x2="545.15" y2="226.5"/>
<line x1="545.15" y1="306.5" x2="545.15" y2="310.0"/>
<line x1="545.15" y1="326.5" x2="545.15" y2="330.0"/>
<line x1="545.15" y1="346.5" x2="545.15" y2="350.0"/>
<line x1="569.15" y1="222.8" x2="569.15" y2="226.5"/>
<line x1="569.15" y1="306.5" x2="569.15" y2="310.0"/>
<line x1="569.15" y1="326.5" x2="569.15" y2="330.0"/>
<line x1="569.15" y1="346.5" x2="569.15" y2="350.0"/>
<line x1="593.15" y1="222.8" x2="593.15" y2="226.5"/>
<line x1="593.15" y1="306.5" x2="593.15" y2="310.0"/>
<line x1="593.15" y1="326.5" x2="593.15" y2="330.0"/>
<line x1="593.15" y1="346.5" x2="593.15" y2="350.0"/>
<line x1="617.15" y1="222.8" x2="617.15" y2="226.5"/>
<line x1="617.15" y1="306.5" x2="617.15" y2="310.0"/>
<line x1="617.15" y1="326.5" x2="617.15" y2="330.0"/>
<line x1="617.15" y1="346.5" x2="617.15" y2="350.0"/>
<line x1="641.15" y1="222.8" x2="641.15" y2="226.5"/>
<line x1="641.15" y1="306.5" x2="641.15" y2="310.0"/>
<line x1="641.15" y1="326.5" x2="641.15" y2="330.0"/>
<line x1="641.15" y1="346.5" x2="641.15" y2="350.0"/>
<line x1="665.15" y1="222.8" x2="665.15" y2="226.5"/>
<line x1="665.15" y1="306.5" x2="665.15" y2="310.0"/>
<line x1="665.15" y1="326.5" x2="665.15" y2="330.0"/>
<line x1="665.15" y1="346.5" x2="665.15" y2="350.0"/>
<line x1="689.15" y1="222.8" x2="689.15" y2="226.5"/>
<line x1="689.15" y1="306.5" x2="689.15" y2="310.0"/>
<line x1="689.15" y1="326.5" x2="689.15" y2="330.0"/>
<line x1="689.15" y1="346.5" x2="689.15" y2="350.0"/>
<line x1="713.15" y1="222.8" x2="713.15" y2="226.5"/>
<line x1="713.15" y1="306.5" x2="713.15" y2="310.0"/>
<line x1="713.15" y1="326.5" x2="713.15" y2="330.0"/>
<line x1="713.15" y1="346.5" x2="713.15" y2="350.0"/>
<line x1="737.15" y1="222.8" x2="737.15" y2="226.5"/>
<line x1="737.15" y1="306.5" x2="737.15" y2="310.0"/>
<line x1="737.15" y1="326.5" x2="737.15" y2="330.0"/>
<line x1="737.15" y1="346.5" x2="737.15" y2="350.0"/>
<line x1="761.15" y1="222.8" x2="761.15" y2="226.5"/>
<line x1="761.15" y1="306.5" x2="761.15" y2="310.0"/>
<line x1="761.15" y1="326.5" x2="761.15" y2="330.0"/>
<line x1="761.15" y1="346.5" x2="761.15" y2="350.0"/>
</g>
<g transform="translate(73.1,317.9) rotate(26) scale(1.0)"><rect x="-3.6" y="-2.5" width="7" height="6.7" rx="1.5" fill="#f7b996" stroke="#f08248" stroke-width="1.05"/><rect x="0.7" y="-1.5" width="2.1" height="5" rx="0.8" fill="#f28c55"/><rect x="-2.4" y="-1.3" width="2.5" height="3.2" rx="1" fill="#fde1d2"/><path d="M-4.3 -5.1 H4.3 M-3.3 -3.5 H3.5 M0.6 -5.1 V-3.5" stroke="#f08248" stroke-width="0.95" fill="none" stroke-linecap="round"/><path d="M-1.6 4.2 L-0.2 5.7 L1.3 4.2 Z" fill="#f08248"/></g>
<g transform="translate(193.1,317.9) rotate(26) scale(1.0)"><rect x="-3.6" y="-2.5" width="7" height="6.7" rx="1.5" fill="#f7b996" stroke="#f08248" stroke-width="1.05"/><rect x="0.7" y="-1.5" width="2.1" height="5" rx="0.8" fill="#f28c55"/><rect x="-2.4" y="-1.3" width="2.5" height="3.2" rx="1" fill="#fde1d2"/><path d="M-4.3 -5.1 H4.3 M-3.3 -3.5 H3.5 M0.6 -5.1 V-3.5" stroke="#f08248" stroke-width="0.95" fill="none" stroke-linecap="round"/><path d="M-1.6 4.2 L-0.2 5.7 L1.3 4.2 Z" fill="#f08248"/></g>
<g transform="translate(313.1,317.9) rotate(26) scale(1.0)"><rect x="-3.6" y="-2.5" width="7" height="6.7" rx="1.5" fill="#f7b996" stroke="#f08248" stroke-width="1.05"/><rect x="0.7" y="-1.5" width="2.1" height="5" rx="0.8" fill="#f28c55"/><rect x="-2.4" y="-1.3" width="2.5" height="3.2" rx="1" fill="#fde1d2"/><path d="M-4.3 -5.1 H4.3 M-3.3 -3.5 H3.5 M0.6 -5.1 V-3.5" stroke="#f08248" stroke-width="0.95" fill="none" stroke-linecap="round"/><path d="M-1.6 4.2 L-0.2 5.7 L1.3 4.2 Z" fill="#f08248"/></g>
<g transform="translate(385.1,317.9) rotate(26) scale(1.0)"><rect x="-3.6" y="-2.5" width="7" height="6.7" rx="1.5" fill="#f7b996" stroke="#f08248" stroke-width="1.05"/><rect x="0.7" y="-1.5" width="2.1" height="5" rx="0.8" fill="#f28c55"/><rect x="-2.4" y="-1.3" width="2.5" height="3.2" rx="1" fill="#fde1d2"/><path d="M-4.3 -5.1 H4.3 M-3.3 -3.5 H3.5 M0.6 -5.1 V-3.5" stroke="#f08248" stroke-width="0.95" fill="none" stroke-linecap="round"/><path d="M-1.6 4.2 L-0.2 5.7 L1.3 4.2 Z" fill="#f08248"/></g>
<g transform="translate(457.1,317.9) rotate(26) scale(1.0)"><rect x="-3.6" y="-2.5" width="7" height="6.7" rx="1.5" fill="#f7b996" stroke="#f08248" stroke-width="1.05"/><rect x="0.7" y="-1.5" width="2.1" height="5" rx="0.8" fill="#f28c55"/><rect x="-2.4" y="-1.3" width="2.5" height="3.2" rx="1" fill="#fde1d2"/><path d="M-4.3 -5.1 H4.3 M-3.3 -3.5 H3.5 M0.6 -5.1 V-3.5" stroke="#f08248" stroke-width="0.95" fill="none" stroke-linecap="round"/><path d="M-1.6 4.2 L-0.2 5.7 L1.3 4.2 Z" fill="#f08248"/></g>
<g transform="translate(529.1,317.9) rotate(26) scale(1.0)"><rect x="-3.6" y="-2.5" width="7" height="6.7" rx="1.5" fill="#f7b996" stroke="#f08248" stroke-width="1.05"/><rect x="0.7" y="-1.5" width="2.1" height="5" rx="0.8" fill="#f28c55"/><rect x="-2.4" y="-1.3" width="2.5" height="3.2" rx="1" fill="#fde1d2"/><path d="M-4.3 -5.1 H4.3 M-3.3 -3.5 H3.5 M0.6 -5.1 V-3.5" stroke="#f08248" stroke-width="0.95" fill="none" stroke-linecap="round"/><path d="M-1.6 4.2 L-0.2 5.7 L1.3 4.2 Z" fill="#f08248"/></g>
<g transform="translate(601.1,317.9) rotate(26) scale(1.0)"><rect x="-3.6" y="-2.5" width="7" height="6.7" rx="1.5" fill="#f7b996" stroke="#f08248" stroke-width="1.05"/><rect x="0.7" y="-1.5" width="2.1" height="5" rx="0.8" fill="#f28c55"/><rect x="-2.4" y="-1.3" width="2.5" height="3.2" rx="1" fill="#fde1d2"/><path d="M-4.3 -5.1 H4.3 M-3.3 -3.5 H3.5 M0.6 -5.1 V-3.5" stroke="#f08248" stroke-width="0.95" fill="none" stroke-linecap="round"/><path d="M-1.6 4.2 L-0.2 5.7 L1.3 4.2 Z" fill="#f08248"/></g>
<g transform="translate(673.1,317.9) rotate(26) scale(1.0)"><rect x="-3.6" y="-2.5" width="7" height="6.7" rx="1.5" fill="#f7b996" stroke="#f08248" stroke-width="1.05"/><rect x="0.7" y="-1.5" width="2.1" height="5" rx="0.8" fill="#f28c55"/><rect x="-2.4" y="-1.3" width="2.5" height="3.2" rx="1" fill="#fde1d2"/><path d="M-4.3 -5.1 H4.3 M-3.3 -3.5 H3.5 M0.6 -5.1 V-3.5" stroke="#f08248" stroke-width="0.95" fill="none" stroke-linecap="round"/><path d="M-1.6 4.2 L-0.2 5.7 L1.3 4.2 Z" fill="#f08248"/></g>
<g transform="translate(745.1,317.9) rotate(26) scale(1.0)"><rect x="-3.6" y="-2.5" width="7" height="6.7" rx="1.5" fill="#f7b996" stroke="#f08248" stroke-width="1.05"/><rect x="0.7" y="-1.5" width="2.1" height="5" rx="0.8" fill="#f28c55"/><rect x="-2.4" y="-1.3" width="2.5" height="3.2" rx="1" fill="#fde1d2"/><path d="M-4.3 -5.1 H4.3 M-3.3 -3.5 H3.5 M0.6 -5.1 V-3.5" stroke="#f08248" stroke-width="0.95" fill="none" stroke-linecap="round"/><path d="M-1.6 4.2 L-0.2 5.7 L1.3 4.2 Z" fill="#f08248"/></g>
</svg>
<span class="t" style="left:31.36px;top:52.19px;font-size:8.4px;color:#5a5a5a;transform:scaleX(1.2968);-webkit-text-stroke-width:0.15px;">1</span>
<span class="t" style="left:55.33px;top:52.19px;font-size:8.4px;color:#35b3ab;font-weight:700;transform:scaleX(1.3944);-webkit-text-stroke-width:0.3px;">2</span>
<span class="t" style="left:79.40px;top:52.19px;font-size:8.4px;color:#35b3ab;font-weight:700;transform:scaleX(1.3905);-webkit-text-stroke-width:0.3px;">3</span>
<span class="t" style="left:103.60px;top:52.19px;font-size:8.4px;color:#5a5a5a;transform:scaleX(1.2767);-webkit-text-stroke-width:0.15px;">4</span>
<span class="t" style="left:127.55px;top:52.19px;font-size:8.4px;color:#5a5a5a;transform:scaleX(1.2853);-webkit-text-stroke-width:0.15px;">5</span>
<span class="t" style="left:151.49px;top:52.19px;font-size:8.4px;color:#5a5a5a;transform:scaleX(1.2880);-webkit-text-stroke-width:0.15px;">6</span>
<span class="t" style="left:175.52px;top:52.19px;font-size:8.4px;color:#5a5a5a;transform:scaleX(1.2894);-webkit-text-stroke-width:0.15px;">7</span>
<span class="t" style="left:199.55px;top:52.19px;font-size:8.4px;color:#5a5a5a;transform:scaleX(1.2853);-webkit-text-stroke-width:0.15px;">8</span>
<span class="t" style="left:223.33px;top:52.19px;font-size:8.4px;color:#35b3ab;font-weight:700;transform:scaleX(1.3944);-webkit-text-stroke-width:0.3px;">9</span>
<span class="t" style="left:244.83px;top:52.19px;font-size:8.4px;color:#35b3ab;font-weight:700;transform:scaleX(1.2000);-webkit-text-stroke-width:0.3px;">10</span>
<span class="t" style="left:269.36px;top:52.19px;font-size:8.4px;color:#5a5a5a;transform:scaleX(1.1600);-webkit-text-stroke-width:0.15px;">11</span>
<span class="t" style="left:293.00px;top:52.19px;font-size:8.4px;color:#5a5a5a;transform:scaleX(1.1600);-webkit-text-stroke-width:0.15px;">12</span>
<span class="t" style="left:316.97px;top:52.19px;font-size:8.4px;color:#5a5a5a;transform:scaleX(1.1600);-webkit-text-stroke-width:0.15px;">13</span>
<span class="t" style="left:340.90px;top:52.19px;font-size:8.4px;color:#5a5a5a;transform:scaleX(1.1600);-webkit-text-stroke-width:0.15px;">14</span>
<span class="t" style="left:364.97px;top:52.19px;font-size:8.4px;color:#5a5a5a;transform:scaleX(1.1600);-webkit-text-stroke-width:0.15px;">15</span>
<span class="t" style="left:388.83px;top:52.19px;font-size:8.4px;color:#35b3ab;font-weight:700;transform:scaleX(1.2000);-webkit-text-stroke-width:0.3px;">16</span>
<span class="t" style="left:412.85px;top:52.19px;font-size:8.4px;color:#35b3ab;font-weight:700;transform:scaleX(1.2000);-webkit-text-stroke-width:0.3px;">17</span>
<span class="t" style="left:436.97px;top:52.19px;font-size:8.4px;color:#5a5a5a;transform:scaleX(1.1600);-webkit-text-stroke-width:0.15px;">18</span>
<span class="t" style="left:461.00px;top:52.19px;font-size:8.4px;color:#5a5a5a;transform:scaleX(1.1600);-webkit-text-stroke-width:0.15px;">19</span>
<span class="t" style="left:485.07px;top:52.19px;font-size:8.4px;color:#5a5a5a;transform:scaleX(1.1600);-webkit-text-stroke-width:0.15px;">20</span>
<span class="t" style="left:509.12px;top:52.19px;font-size:8.4px;color:#5a5a5a;transform:scaleX(1.1600);-webkit-text-stroke-width:0.15px;">21</span>
<span class="t" style="left:533.12px;top:52.19px;font-size:8.4px;color:#5a5a5a;transform:scaleX(1.1600);-webkit-text-stroke-width:0.15px;">22</span>
<span class="t" style="left:556.98px;top:52.19px;font-size:8.4px;color:#35b3ab;font-weight:700;transform:scaleX(1.2000);-webkit-text-stroke-width:0.3px;">23</span>
<span class="t" style="left:580.80px;top:52.19px;font-size:8.4px;color:#35b3ab;font-weight:700;transform:scaleX(1.2000);-webkit-text-stroke-width:0.3px;">24</span>
<span class="t" style="left:605.09px;top:52.19px;font-size:8.4px;color:#5a5a5a;transform:scaleX(1.1600);-webkit-text-stroke-width:0.15px;">25</span>
<span class="t" style="left:629.09px;top:52.19px;font-size:8.4px;color:#5a5a5a;transform:scaleX(1.1600);-webkit-text-stroke-width:0.15px;">26</span>
<span class="t" style="left:653.12px;top:52.19px;font-size:8.4px;color:#5a5a5a;transform:scaleX(1.1600);-webkit-text-stroke-width:0.15px;">27</span>
<span class="t" style="left:677.09px;top:52.19px;font-size:8.4px;color:#5a5a5a;transform:scaleX(1.1600);-webkit-text-stroke-width:0.15px;">28</span>
<span class="t" style="left:701.12px;top:52.19px;font-size:8.4px;color:#5a5a5a;transform:scaleX(1.1600);-webkit-text-stroke-width:0.15px;">29</span>
<span class="t" style="left:725.03px;top:52.19px;font-size:8.4px;color:#35b3ab;font-weight:700;transform:scaleX(1.2000);-webkit-text-stroke-width:0.3px;">30</span>
<span class="t" style="left:14.47px;top:66.86px;font-size:8.2px;color:#5a5a5a;transform:scaleX(1.1000);-webkit-text-stroke-width:0.15px;">113</span>
<span class="t" style="left:18.89px;top:104.00px;font-size:8.2px;color:#5a5a5a;transform:scaleX(1.1000);-webkit-text-stroke-width:0.15px;">61</span>
<span class="t" style="left:18.89px;top:125.43px;font-size:8.2px;color:#5a5a5a;transform:scaleX(1.1000);-webkit-text-stroke-width:0.15px;">31</span>
<span class="t" style="left:23.90px;top:146.86px;font-size:8.2px;color:#5a5a5a;transform:scaleX(1.1000);-webkit-text-stroke-width:0.15px;">1</span>
</div>
<span class="t" style="left:759.35px;top:158.45px;font-size:8.8px;color:#1a202c;font-weight:700;transform:scaleX(1.1383);">Based on last 12 months</span>
<div class="b" style="left:760px;top:172.4px;width:4.00px;height:49.50px;background:#fbc47a;border-radius:3px 0 0 3px;"></div>
<div class="b" style="left:762px;top:172.4px;width:216.00px;height:49.50px;background:#fff;border-radius:0 2px 2px 0;box-shadow:0 1px 3px 0 rgba(0,0,0,.10),0 1px 2px 0 rgba(0,0,0,.06);"></div>
<span class="t" style="left:767.92px;top:181.86px;font-size:19.3px;color:#fbc47a;font-weight:700;transform:scaleX(1.2536);-webkit-text-stroke-width:0.45px;">32%</span>
<span class="t" style="left:768.20px;top:207.15px;font-size:8.8px;color:#fbc47a;transform:scaleX(1.1336);-webkit-text-stroke-width:0.25px;">Time between 3% and 15%</span>
<div class="b" style="left:760px;top:232.2px;width:4.00px;height:49.50px;background:#68d391;border-radius:3px 0 0 3px;"></div>
<div class="b" style="left:762px;top:232.2px;width:216.00px;height:49.50px;background:#fff;border-radius:0 2px 2px 0;box-shadow:0 1px 3px 0 rgba(0,0,0,.10),0 1px 2px 0 rgba(0,0,0,.06);"></div>
<span class="t" style="left:767.67px;top:241.66px;font-size:19.3px;color:#5fcb8b;font-weight:700;transform:scaleX(1.2600);-webkit-text-stroke-width:0.45px;">52%</span>
<span class="t" style="left:768.20px;top:266.95px;font-size:8.8px;color:#5fcb8b;transform:scaleX(1.1233);-webkit-text-stroke-width:0.25px;">Time above 15%</span>
<div class="b" style="left:762px;top:292.0px;width:216.00px;height:49.50px;background:#fff;border-radius:0 2px 2px 0;box-shadow:0 1px 3px 0 rgba(0,0,0,.10),0 1px 2px 0 rgba(0,0,0,.06);"></div>
<span class="t" style="left:767.00px;top:301.46px;font-size:19.3px;color:#414d5f;font-weight:700;transform:scaleX(1.2110);-webkit-text-stroke-width:0.45px;">111/122</span>
<span class="t" style="left:767.48px;top:326.75px;font-size:8.8px;color:#434e5e;transform:scaleX(1.1598);-webkit-text-stroke-width:0.25px;">Infusions</span>
<div class="b" style="left:760px;top:351.79999999999995px;width:4.00px;height:49.50px;background:#f15b5f;border-radius:3px 0 0 3px;"></div>
<div class="b" style="left:762px;top:351.79999999999995px;width:216.00px;height:49.50px;background:#fff;border-radius:0 2px 2px 0;box-shadow:0 1px 3px 0 rgba(0,0,0,.10),0 1px 2px 0 rgba(0,0,0,.06);"></div>
<span class="t" style="left:767.71px;top:361.26px;font-size:19.3px;color:#f15b5f;font-weight:700;transform:scaleX(1.1881);-webkit-text-stroke-width:0.45px;">91%</span>
<span class="t" style="left:768.40px;top:386.55px;font-size:8.8px;color:#f15b5f;transform:scaleX(1.1328);-webkit-text-stroke-width:0.25px;">Adherence</span>
<div class="b" style="left:762px;top:411.6px;width:216.00px;height:49.50px;background:#fff;border-radius:0 2px 2px 0;box-shadow:0 1px 3px 0 rgba(0,0,0,.10),0 1px 2px 0 rgba(0,0,0,.06);"></div>
<span class="t" style="left:767.89px;top:421.06px;font-size:19.3px;color:#414d5f;font-weight:700;transform:scaleX(1.3113);-webkit-text-stroke-width:0.45px;">331,000</span>
<span class="t" style="left:767.62px;top:446.35px;font-size:8.8px;color:#434e5e;transform:scaleX(1.1783);-webkit-text-stroke-width:0.25px;">Units</span>
<div class="b" style="left:762px;top:471.4px;width:216.00px;height:49.50px;background:#fff;border-radius:0 2px 2px 0;box-shadow:0 1px 3px 0 rgba(0,0,0,.10),0 1px 2px 0 rgba(0,0,0,.06);"></div>
<span class="t" style="left:767.38px;top:480.86px;font-size:19.3px;color:#414d5f;font-weight:700;transform:scaleX(1.5063);-webkit-text-stroke-width:0.45px;">0</span>
<span class="t" style="left:767.60px;top:506.15px;font-size:8.8px;color:#434e5e;transform:scaleX(1.1422);-webkit-text-stroke-width:0.25px;">Bleeds</span>
<div class="b" style="left:762px;top:531.1999999999999px;width:216.00px;height:49.50px;background:#fff;border-radius:0 2px 2px 0;box-shadow:0 1px 3px 0 rgba(0,0,0,.10),0 1px 2px 0 rgba(0,0,0,.06);"></div>
<span class="t" style="left:767.38px;top:540.66px;font-size:19.3px;color:#414d5f;font-weight:700;transform:scaleX(1.5063);-webkit-text-stroke-width:0.45px;">0</span>
<span class="t" style="left:768.40px;top:565.95px;font-size:8.8px;color:#434e5e;transform:scaleX(1.1433);-webkit-text-stroke-width:0.25px;">Annualized Bleeding Rate</span>
<svg class="b" style="left:765px;top:598px" width="210" height="64" viewBox="765 598 210 64">
<g fill="#0f3a4d">
<path d="M774 616.8h5.6v9.6h12.3v-9.6h5.6v24.6h-5.6v-10.2h-12.3v10.2H774z"/>
<path d="M801.7 616.8h15.6v4.7h-10v5.1h9v4.6h-9v5.5h10.2v4.7h-15.8z"/>
<path d="M821 616.8H827L836.2 634.4L845.4 616.8H851L846.3 641.4H845.5V628.5L839 641.4H833.2L826.6 628.2V641.4H821Z"/>
<path d="M858.7 616.8h7.6l9.3 24.6h-6.1l-7-19.2l-7.5 19.2H849z"/>
<path d="M876 616.8h5v20.3h6.7v4.3H876z"/>
<path d="M882 616.8h6.4l5.9 10.4l5.9-10.4h6.2l-9.3 15.5v9.1h-5.6v-9.1z"/>
<path d="M906.2 616.8h20.2v4.8h-7.3v19.8h-5.6v-19.8h-7.3z"/>
<path d="M929 616.8h5.6v24.6H929z"/>
<path d="M963.3 623.6a13 13 0 1 0 0 11l-4.9-2.3a7.6 7.6 0 1 1 0-6.4z"/>
</g>
<g fill="#22a39b">
<circle cx="836" cy="607" r="2.3"/><circle cx="831.3" cy="612" r="2"/>
<circle cx="840.3" cy="612.8" r="3.4" fill="#25ab9f"/><circle cx="833.7" cy="616.8" r="2.3"/>
<circle cx="839.3" cy="619.6" r="1.4"/><circle cx="836" cy="622.7" r="1.6"/>
<circle cx="862.3" cy="634.5" r="2.5" fill="#2bb6a8"/>
</g>
</svg>
<span class="t" style="left:800.53px;top:646.05px;font-size:8.8px;color:#86d3cb;transform:scaleX(1.1766);-webkit-text-stroke-width:0.2px;">Quality Data | Improved Care</span>
<div class="b" style="left:30px;top:410px;width:717.00px;height:49.00px;background:#e2e8f0;border-radius:1px;"></div>
<div class="b" style="left:30px;top:464px;width:717.00px;height:50.00px;background:#e2e8f0;border-radius:1px;"></div>
<div class="b" style="left:30px;top:519px;width:717.00px;height:240.00px;background:#fff;border-radius:1px 1px 0 0;"></div>
<span class="t" style="left:40.66px;top:427.92px;font-size:12.5px;color:#2d3748;transform:scaleX(1.1384);-webkit-text-stroke-width:0.15px;">March 2020</span>
<span class="t" style="left:41.80px;top:482.42px;font-size:12.5px;color:#2d3748;transform:scaleX(1.1288);-webkit-text-stroke-width:0.15px;">April 2020</span>
<span class="t" style="left:40.83px;top:538.29px;font-size:12.3px;color:#38b2ac;font-weight:700;transform:scaleX(1.2162);">May 2020</span>
<span class="t" style="left:438.40px;top:421.37px;font-size:12.2px;color:#4a5568;transform:scaleX(1.1788);-webkit-text-stroke-width:0.15px;">34,000</span>
<span class="t" style="left:448.96px;top:438.29px;font-size:9.7px;color:#4a5568;transform:scaleX(1.1051);-webkit-text-stroke-width:0.15px;">units</span>
<span class="t" style="left:509.70px;top:421.37px;font-size:12.2px;color:#4a5568;transform:scaleX(1.0975);-webkit-text-stroke-width:0.15px;">12/10</span>
<span class="t" style="left:505.92px;top:438.29px;font-size:9.7px;color:#4a5568;transform:scaleX(1.0778);-webkit-text-stroke-width:0.15px;">infusions</span>
<span class="t" style="left:577.78px;top:421.37px;font-size:12.2px;color:#4a5568;transform:scaleX(1.1174);-webkit-text-stroke-width:0.15px;">100%</span>
<span class="t" style="left:571.19px;top:438.29px;font-size:9.7px;color:#4a5568;transform:scaleX(1.0609);-webkit-text-stroke-width:0.15px;">adherence</span>
<span class="t" style="left:651.85px;top:421.37px;font-size:12.2px;color:#4a5568;transform:scaleX(1.2844);-webkit-text-stroke-width:0.15px;">0</span>
<span class="t" style="left:643.17px;top:438.29px;font-size:9.7px;color:#4a5568;transform:scaleX(1.0859);-webkit-text-stroke-width:0.15px;">notes</span>
<span class="t" style="left:703.75px;top:421.37px;font-size:12.2px;color:#4a5568;transform:scaleX(1.2844);-webkit-text-stroke-width:0.15px;">0</span>
<span class="t" style="left:692.42px;top:438.29px;font-size:9.7px;color:#4a5568;transform:scaleX(1.0888);-webkit-text-stroke-width:0.15px;">bleeds</span>
<span class="t" style="left:440.62px;top:476.67px;font-size:12.2px;color:#4a5568;transform:scaleX(1.1131);-webkit-text-stroke-width:0.15px;">27,000</span>
<span class="t" style="left:450.06px;top:493.39px;font-size:9.7px;color:#4a5568;transform:scaleX(1.1051);-webkit-text-stroke-width:0.15px;">units</span>
<span class="t" style="left:512.96px;top:476.67px;font-size:12.2px;color:#4a5568;transform:scaleX(1.1603);-webkit-text-stroke-width:0.15px;">9/10</span>
<span class="t" style="left:506.02px;top:493.39px;font-size:9.7px;color:#4a5568;transform:scaleX(1.0778);-webkit-text-stroke-width:0.15px;">infusions</span>
<span class="t" style="left:580.90px;top:476.67px;font-size:12.2px;color:#4a5568;transform:scaleX(1.1825);-webkit-text-stroke-width:0.15px;">90%</span>
<span class="t" style="left:571.09px;top:493.39px;font-size:9.7px;color:#4a5568;transform:scaleX(1.0609);-webkit-text-stroke-width:0.15px;">adherence</span>
<span class="t" style="left:651.85px;top:476.67px;font-size:12.2px;color:#4a5568;transform:scaleX(1.2844);-webkit-text-stroke-width:0.15px;">0</span>
<span class="t" style="left:643.17px;top:493.39px;font-size:9.7px;color:#4a5568;transform:scaleX(1.0859);-webkit-text-stroke-width:0.15px;">notes</span>
<span class="t" style="left:703.75px;top:476.67px;font-size:12.2px;color:#4a5568;transform:scaleX(1.2844);-webkit-text-stroke-width:0.15px;">0</span>
<span class="t" style="left:692.42px;top:493.39px;font-size:9.7px;color:#4a5568;transform:scaleX(1.0888);-webkit-text-stroke-width:0.15px;">bleeds</span>
<span class="t" style="left:425.55px;top:532.18px;font-size:11.6px;color:#4a5568;font-weight:700;transform:scaleX(1.3068);-webkit-text-stroke-width:0.15px;">27,000</span>
<span class="t" style="left:435.76px;top:549.09px;font-size:9.7px;color:#4a5568;font-weight:700;transform:scaleX(1.1050);-webkit-text-stroke-width:0.15px;">units</span>
<span class="t" style="left:504.17px;top:532.18px;font-size:11.6px;color:#4a5568;font-weight:700;transform:scaleX(1.2215);-webkit-text-stroke-width:0.15px;">9/11</span>
<span class="t" style="left:494.94px;top:549.09px;font-size:9.7px;color:#4a5568;font-weight:700;transform:scaleX(1.0440);-webkit-text-stroke-width:0.15px;">infusions</span>
<span class="t" style="left:575.16px;top:532.18px;font-size:11.6px;color:#4a5568;font-weight:700;transform:scaleX(1.2765);-webkit-text-stroke-width:0.15px;">82%</span>
<span class="t" style="left:564.09px;top:549.09px;font-size:9.7px;color:#4a5568;font-weight:700;transform:scaleX(1.0695);-webkit-text-stroke-width:0.15px;">adherence</span>
<span class="t" style="left:648.25px;top:532.18px;font-size:11.6px;color:#4a5568;font-weight:700;transform:scaleX(1.4753);-webkit-text-stroke-width:0.15px;">0</span>
<span class="t" style="left:639.18px;top:549.09px;font-size:9.7px;color:#4a5568;font-weight:700;transform:scaleX(1.0571);-webkit-text-stroke-width:0.15px;">notes</span>
<span class="t" style="left:701.78px;top:532.18px;font-size:11.6px;color:#4a5568;font-weight:700;transform:scaleX(1.5286);-webkit-text-stroke-width:0.15px;">0</span>
<span class="t" style="left:690.02px;top:549.09px;font-size:9.7px;color:#4a5568;font-weight:700;transform:scaleX(1.0763);-webkit-text-stroke-width:0.15px;">bleeds</span>
<div class="b" style="left:30px;top:569px;width:717.00px;height:1.00px;background:#e2e8f0;"></div>
<span class="t" style="left:71.00px;top:577.59px;font-size:12.3px;color:#2d3748;transform:scaleX(1.1190);-webkit-text-stroke-width:0.15px;">May 1, 9:44 a.m.</span>
<span class="t" style="left:634.94px;top:579.62px;font-size:8.6px;color:#2d3748;transform:scaleX(1.2101);-webkit-text-stroke-width:0.2px;">3000 units of Kovaltry</span>
<div class="b" style="left:30px;top:597px;width:717.00px;height:1.00px;background:#e2e8f0;"></div>
<span class="t" style="left:70.97px;top:605.24px;font-size:12.3px;color:#2d3748;transform:scaleX(1.1458);-webkit-text-stroke-width:0.15px;">May 6, 8:55 p.m.</span>
<span class="t" style="left:634.94px;top:607.27px;font-size:8.6px;color:#2d3748;transform:scaleX(1.2101);-webkit-text-stroke-width:0.2px;">3000 units of Kovaltry</span>
<div class="b" style="left:30px;top:625px;width:717.00px;height:1.00px;background:#e2e8f0;"></div>
<span class="t" style="left:71.04px;top:632.89px;font-size:12.3px;color:#2d3748;transform:scaleX(1.0781);-webkit-text-stroke-width:0.15px;">May 11, 7:19 a.m.</span>
<span class="t" style="left:634.94px;top:634.92px;font-size:8.6px;color:#2d3748;transform:scaleX(1.2101);-webkit-text-stroke-width:0.2px;">3000 units of Kovaltry</span>
<div class="b" style="left:30px;top:652px;width:717.00px;height:1.00px;background:#e2e8f0;"></div>
<span class="t" style="left:70.99px;top:660.54px;font-size:12.3px;color:#2d3748;transform:scaleX(1.1279);-webkit-text-stroke-width:0.15px;">May 14, 9:30 p.m.</span>
<span class="t" style="left:634.94px;top:662.57px;font-size:8.6px;color:#2d3748;transform:scaleX(1.2101);-webkit-text-stroke-width:0.2px;">3000 units of Kovaltry</span>
<div class="b" style="left:30px;top:680px;width:717.00px;height:1.00px;background:#e2e8f0;"></div>
<span class="t" style="left:71.02px;top:688.19px;font-size:12.3px;color:#2d3748;transform:scaleX(1.0999);-webkit-text-stroke-width:0.15px;">May 17, 2:33 p.m.</span>
<span class="t" style="left:634.94px;top:690.22px;font-size:8.6px;color:#2d3748;transform:scaleX(1.2101);-webkit-text-stroke-width:0.2px;">3000 units of Kovaltry</span>
<div class="b" style="left:30px;top:707px;width:717.00px;height:1.00px;background:#e2e8f0;"></div>
<span class="t" style="left:70.98px;top:715.84px;font-size:12.3px;color:#2d3748;transform:scaleX(1.1414);-webkit-text-stroke-width:0.15px;">May 20, 8:09 a.m.</span>
<span class="t" style="left:634.94px;top:717.87px;font-size:8.6px;color:#2d3748;transform:scaleX(1.2101);-webkit-text-stroke-width:0.2px;">3000 units of Kovaltry</span>
<div class="b" style="left:30px;top:735px;width:717.00px;height:1.00px;background:#e2e8f0;"></div>
<span class="t" style="left:71.00px;top:743.49px;font-size:12.3px;color:#2d3748;transform:scaleX(1.1134);-webkit-text-stroke-width:0.15px;">May 23, 9:51 a.m.</span>
<span class="t" style="left:634.94px;top:745.52px;font-size:8.6px;color:#2d3748;transform:scaleX(1.2101);-webkit-text-stroke-width:0.2px;">3000 units of Kovaltry</span>
<svg class="b" style="left:30px;top:560px" width="40" height="199" viewBox="30 560 40 199">
<g transform="translate(46.7,583.4) rotate(26) scale(1.0)"><rect x="-3.6" y="-2.5" width="7" height="6.7" rx="1.5" fill="#f7b996" stroke="#f08248" stroke-width="1.05"/><rect x="0.7" y="-1.5" width="2.1" height="5" rx="0.8" fill="#f28c55"/><rect x="-2.4" y="-1.3" width="2.5" height="3.2" rx="1" fill="#fde1d2"/><path d="M-4.3 -5.1 H4.3 M-3.3 -3.5 H3.5 M0.6 -5.1 V-3.5" stroke="#f08248" stroke-width="0.95" fill="none" stroke-linecap="round"/><path d="M-1.6 4.2 L-0.2 5.7 L1.3 4.2 Z" fill="#f08248"/></g>
<g transform="translate(46.7,611.0) rotate(26) scale(1.0)"><rect x="-3.6" y="-2.5" width="7" height="6.7" rx="1.5" fill="#f7b996" stroke="#f08248" stroke-width="1.05"/><rect x="0.7" y="-1.5" width="2.1" height="5" rx="0.8" fill="#f28c55"/><rect x="-2.4" y="-1.3" width="2.5" height="3.2" rx="1" fill="#fde1d2"/><path d="M-4.3 -5.1 H4.3 M-3.3 -3.5 H3.5 M0.6 -5.1 V-3.5" stroke="#f08248" stroke-width="0.95" fill="none" stroke-linecap="round"/><path d="M-1.6 4.2 L-0.2 5.7 L1.3 4.2 Z" fill="#f08248"/></g>
<g transform="translate(46.7,638.7) rotate(26) scale(1.0)"><rect x="-3.6" y="-2.5" width="7" height="6.7" rx="1.5" fill="#f7b996" stroke="#f08248" stroke-width="1.05"/><rect x="0.7" y="-1.5" width="2.1" height="5" rx="0.8" fill="#f28c55"/><rect x="-2.4" y="-1.3" width="2.5" height="3.2" rx="1" fill="#fde1d2"/><path d="M-4.3 -5.1 H4.3 M-3.3 -3.5 H3.5 M0.6 -5.1 V-3.5" stroke="#f08248" stroke-width="0.95" fill="none" stroke-linecap="round"/><path d="M-1.6 4.2 L-0.2 5.7 L1.3 4.2 Z" fill="#f08248"/></g>
<g transform="translate(46.7,666.4) rotate(26) scale(1.0)"><rect x="-3.6" y="-2.5" width="7" height="6.7" rx="1.5" fill="#f7b996" stroke="#f08248" stroke-width="1.05"/><rect x="0.7" y="-1.5" width="2.1" height="5" rx="0.8" fill="#f28c55"/><rect x="-2.4" y="-1.3" width="2.5" height="3.2" rx="1" fill="#fde1d2"/><path d="M-4.3 -5.1 H4.3 M-3.3 -3.5 H3.5 M0.6 -5.1 V-3.5" stroke="#f08248" stroke-width="0.95" fill="none" stroke-linecap="round"/><path d="M-1.6 4.2 L-0.2 5.7 L1.3 4.2 Z" fill="#f08248"/></g>
<g transform="translate(46.7,694.0) rotate(26) scale(1.0)"><rect x="-3.6" y="-2.5" width="7" height="6.7" rx="1.5" fill="#f7b996" stroke="#f08248" stroke-width="1.05"/><rect x="0.7" y="-1.5" width="2.1" height="5" rx="0.8" fill="#f28c55"/><rect x="-2.4" y="-1.3" width="2.5" height="3.2" rx="1" fill="#fde1d2"/><path d="M-4.3 -5.1 H4.3 M-3.3 -3.5 H3.5 M0.6 -5.1 V-3.5" stroke="#f08248" stroke-width="0.95" fill="none" stroke-linecap="round"/><path d="M-1.6 4.2 L-0.2 5.7 L1.3 4.2 Z" fill="#f08248"/></g>
<g transform="translate(46.7,721.6) rotate(26) scale(1.0)"><rect x="-3.6" y="-2.5" width="7" height="6.7" rx="1.5" fill="#f7b996" stroke="#f08248" stroke-width="1.05"/><rect x="0.7" y="-1.5" width="2.1" height="5" rx="0.8" fill="#f28c55"/><rect x="-2.4" y="-1.3" width="2.5" height="3.2" rx="1" fill="#fde1d2"/><path d="M-4.3 -5.1 H4.3 M-3.3 -3.5 H3.5 M0.6 -5.1 V-3.5" stroke="#f08248" stroke-width="0.95" fill="none" stroke-linecap="round"/><path d="M-1.6 4.2 L-0.2 5.7 L1.3 4.2 Z" fill="#f08248"/></g>
<g transform="translate(46.7,749.3) rotate(26) scale(1.0)"><rect x="-3.6" y="-2.5" width="7" height="6.7" rx="1.5" fill="#f7b996" stroke="#f08248" stroke-width="1.05"/><rect x="0.7" y="-1.5" width="2.1" height="5" rx="0.8" fill="#f28c55"/><rect x="-2.4" y="-1.3" width="2.5" height="3.2" rx="1" fill="#fde1d2"/><path d="M-4.3 -5.1 H4.3 M-3.3 -3.5 H3.5 M0.6 -5.1 V-3.5" stroke="#f08248" stroke-width="0.95" fill="none" stroke-linecap="round"/><path d="M-1.6 4.2 L-0.2 5.7 L1.3 4.2 Z" fill="#f08248"/></g>
</svg>
<div class="b" style="left:1px;top:36px;width:267px;height:57px;border:6px solid #fe0000;box-sizing:border-box"></div>
<div class="b" style="left:267px;top:62px;width:85.00px;height:6.00px;background:#fe0000;"></div>
<div class="b" style="left:351px;top:31px;width:439px;height:67px;border:6px solid #fe0000;box-sizing:border-box;background:#fff"></div>
<span class="t" style="left:378.13px;top:54.15px;font-size:21.8px;color:#000;transform:scaleX(1.0731);-webkit-text-stroke-width:0.2px;text-shadow:0.6px 0.8px 1px rgba(0,0,0,.35);">Patient’s IDs, age and treatment plan</span>
</div>
</body>
</html>
